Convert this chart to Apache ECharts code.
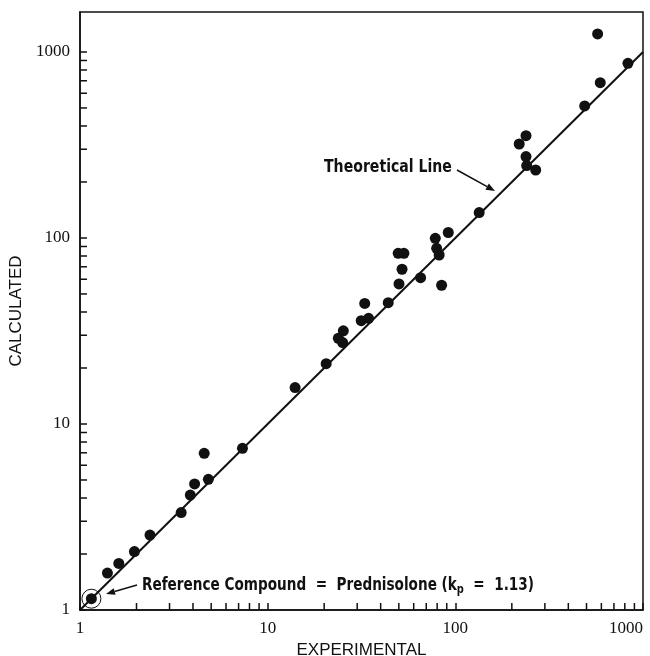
<!DOCTYPE html>
<html>
<head>
<meta charset="utf-8">
<script src="https://cdn.jsdelivr.net/npm/echarts@6/dist/echarts.min.js"></script>
<style>
  html, body { margin: 0; padding: 0; background: #fff; }
  #main { width: 650px; height: 656px; }
</style>
</head>
<body>
<div id="main"></div>
<script>
// values (log-log)
var experimental = [1.40, 1.61, 1.95, 2.36, 3.46, 3.87, 4.08, 4.59, 4.83, 7.34,
  14, 20.5, 23.8, 25.1, 25.3, 31.5, 34.5, 32.9, 43.9, 50.1,
  52, 49.6, 53.2, 65.3, 84.5, 82, 79.5, 78.2, 91.7, 134,
  219, 238, 238, 240, 268, 489, 573, 592, 831];
var calculated = [1.58, 1.78, 2.06, 2.53, 3.34, 4.15, 4.76, 6.96, 5.04, 7.4,
  15.7, 21.1, 28.9, 27.4, 31.7, 35.9, 37, 44.5, 44.9, 56.6,
  67.9, 82.7, 82.7, 61.2, 55.7, 81, 88, 99.6, 107, 137,
  320, 355, 274, 245, 232, 513, 1250, 684, 869];
// reference compound (prednisolone)
var refExperimental = [1.15];
var refCalculated = [1.15];
// theoretical line y = x
var theoryX = [1, 1000];
var theoryY = [1, 1000];
var xRange = [1, 1000];
var yRange = [1, 1640];
var majorTicks = [1, 10, 100, 1000];
var minorTicks = [2, 3, 4, 5, 6, 7, 8, 9, 20, 30, 40, 50, 60, 70, 80, 90,
  200, 300, 400, 500, 600, 700, 800, 900];

var ink = '#111';
var myChart = echarts.init(document.getElementById('main'));

function pts(xs, ys) {
  return xs.map(function (x, i) { return [x, ys[i]]; });
}

function tickItem(dx, dy) {
  return function (params, api) {
    var p = api.coord([api.value(0), api.value(1)]);
    return {
      type: 'line',
      shape: { x1: p[0], y1: p[1], x2: p[0] + dx, y2: p[1] + dy },
      style: { stroke: ink, lineWidth: 1.5 }
    };
  };
}

function arrow(x1, y1, x2, y2) {
  var a = Math.atan2(y2 - y1, x2 - x1), L = 9, W = 3.5;
  var bx = x2 - L * Math.cos(a), by = y2 - L * Math.sin(a);
  return [
    { type: 'line', shape: { x1: x1, y1: y1, x2: bx, y2: by }, style: { stroke: ink, lineWidth: 1.5 } },
    { type: 'polygon', shape: { points: [[x2, y2],
      [bx - W * Math.sin(a), by + W * Math.cos(a)],
      [bx + W * Math.sin(a), by - W * Math.cos(a)]] }, style: { fill: ink } }
  ];
}

var labelFont = 'bold 18px "Liberation Sans Narrow", "DejaVu Sans Condensed", sans-serif';

var option = {
  animation: false,
  backgroundColor: '#fff',
  grid: {
    left: 80, right: 7, top: 12, bottom: 46,
    outerBoundsMode: 'none', containLabel: false,
    show: true, borderColor: ink, borderWidth: 1.5
  },
  xAxis: {
    type: 'log', logBase: 10, min: xRange[0], max: xRange[1],
    name: 'EXPERIMENTAL', nameLocation: 'middle', nameGap: 32,
    nameTextStyle: { fontFamily: 'Liberation Sans', fontSize: 17, color: ink },
    axisLine: { lineStyle: { color: ink, width: 1.5 } },
    axisTick: { inside: true, length: 7, lineStyle: { color: ink, width: 1.5 } },
    axisLabel: {
      fontFamily: 'Liberation Serif', fontSize: 17, color: ink, margin: 10,
      alignMaxLabel: 'right',
      formatter: function (v) { return majorTicks.indexOf(Math.round(v)) >= 0 ? String(Math.round(v)) : ''; }
    },
    splitLine: { show: false }
  },
  yAxis: {
    type: 'log', logBase: 10, min: yRange[0], max: yRange[1],
    name: 'CALCULATED', nameLocation: 'middle', nameGap: 52, nameRotate: 90,
    nameTextStyle: { fontFamily: 'Liberation Sans', fontSize: 17, color: ink },
    axisLine: { lineStyle: { color: ink, width: 1.5 } },
    axisTick: { inside: true, length: 7, lineStyle: { color: ink, width: 1.5 } },
    axisLabel: {
      fontFamily: 'Liberation Serif', fontSize: 17, color: ink, margin: 10,
      showMaxLabel: false,
      formatter: function (v) { return majorTicks.indexOf(Math.round(v)) >= 0 ? String(Math.round(v)) : ''; }
    },
    splitLine: { show: false }
  },
  series: [
    {
      name: 'Theoretical Line', type: 'line', data: pts(theoryX, theoryY),
      symbol: 'none', lineStyle: { color: ink, width: 2 }, z: 2
    },
    {
      name: 'Compounds', type: 'scatter', data: pts(experimental, calculated),
      symbolSize: 11, itemStyle: { color: ink, opacity: 1 }, z: 3
    },
    {
      name: 'Reference', type: 'scatter', data: pts(refExperimental, refCalculated),
      symbolSize: 11, itemStyle: { color: ink, opacity: 1 }, z: 3
    },
    {
      name: 'Reference ring', type: 'scatter', data: pts(refExperimental, refCalculated),
      symbol: 'circle', symbolSize: 19,
      itemStyle: { color: 'rgba(0,0,0,0)', borderColor: ink, borderWidth: 1, opacity: 1 }, z: 3
    },
    {
      type: 'custom', clip: false, renderItem: tickItem(0, -7),
      data: minorTicks.map(function (v) { return [v, yRange[0]]; }), z: 4
    },
    {
      type: 'custom', clip: false, renderItem: tickItem(7, 0),
      data: minorTicks.map(function (v) { return [xRange[0], v]; }), z: 4
    }
  ],
  graphic: [
    { type: 'text', x: 324, y: 158, scaleX: 0.87, style: { text: 'Theoretical Line', font: labelFont, fill: ink } },
    { type: 'group', children: arrow(457, 170, 495, 191) },
    {
      type: 'text', x: 142, y: 574, scaleX: 0.84,
      style: {
        text: 'Reference Compound  =  Prednisolone (k{sub|p}  =  1.13)',
        font: labelFont, fill: ink,
        rich: { sub: { font: 'bold 13px "Liberation Sans Narrow", "DejaVu Sans Condensed", sans-serif', fill: ink, padding: [9, 0, 0, 0] } }
      }
    },
    { type: 'group', children: arrow(137, 585, 106, 594) }
  ]
};

myChart.setOption(option);
</script>
</body>
</html>
